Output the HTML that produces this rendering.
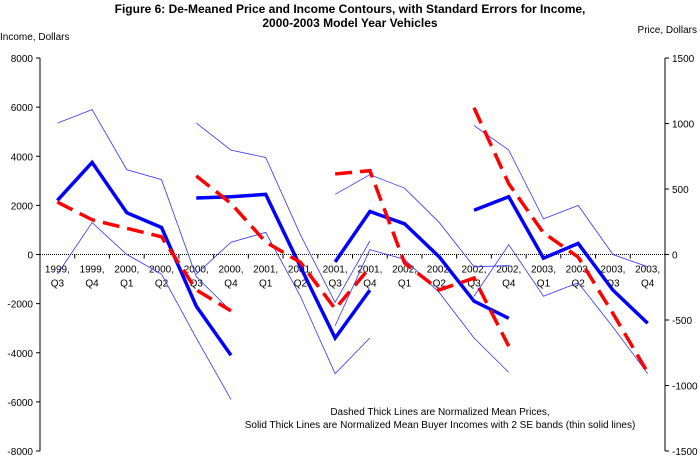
<!DOCTYPE html>
<html><head><meta charset="utf-8"><style>
body{margin:0;background:#fff;}
svg text{font-family:"Liberation Sans",Arial,sans-serif;}
</style></head><body>
<svg id="chart" width="700" height="457" xmlns="http://www.w3.org/2000/svg">
<text x="350" y="13" text-anchor="middle" font-size="12" font-weight="bold">Figure 6: De-Meaned Price and Income Contours, with Standard Errors for Income,</text>
<text x="350" y="27" text-anchor="middle" font-size="12" font-weight="bold">2000-2003 Model Year Vehicles</text>
<text x="0" y="40" font-size="10">Income, Dollars</text>
<text x="697" y="33" text-anchor="end" font-size="10">Price, Dollars</text>
<text x="440" y="415" text-anchor="middle" font-size="10">Dashed Thick Lines are Normalized Mean Prices,</text>
<text x="440" y="428" text-anchor="middle" font-size="10">Solid Thick Lines are Normalized Mean Buyer Incomes with 2 SE bands (thin solid lines)</text>
<g id="axes"></g><g id="series"></g>
</svg>
<script>
const categories=["1999,|Q3","1999,|Q4","2000,|Q1","2000,|Q2","2000,|Q3","2000,|Q4","2001,|Q1","2001,|Q2","2001,|Q3","2001,|Q4","2002,|Q1","2002,|Q2","2002,|Q3","2002,|Q4","2003,|Q1","2003,|Q2","2003,|Q3","2003,|Q4"];
const leftTicks=[8000,6000,4000,2000,0,-2000,-4000,-6000,-8000];
const rightTicks=[1500,1000,500,0,-500,-1000,-1500];
const groupStart=[0,4,8,12];
const income=[[2200,3750,1700,1100,-2100,-4100],[2300,2350,2450,-500,-3400,-1450],[-300,1750,1250,-100,-1900,-2600],[1800,2350,-150,450,-1450,-2800]];
const upper=[[5350,5900,3450,3050,-900,-2300],[5350,4250,3950,800,-1950,550],[2450,3250,2700,1300,-500,-450],[5250,4250,1450,2000,0,-500]];
const lower=[[-800,1300,0,-800,-3400,-5900],[-800,500,900,-1700,-4850,-3400],[-2900,200,-200,-1550,-3400,-4800],[-1700,400,-1700,-1150,-2950,-4850]];
const price=[[400,265,200,135,-270,-430],[600,390,95,-60,-415,-100],[615,640,-65,-270,-180,-700],[1120,540,165,-20,-450,-900]];
const X0=40,X1=665,Y0=58,Y1=451;
const x=i=>X0+(i+0.5)*(X1-X0)/categories.length;
const yL=v=>Y0+(8000-v)/16000*(Y1-Y0);
const yR=v=>Y0+(1500-v)/3000*(Y1-Y0);
const NS="http://www.w3.org/2000/svg";
function mk(tag,attrs,parent){const e=document.createElementNS(NS,tag);for(const k in attrs)e.setAttribute(k,attrs[k]);parent.appendChild(e);return e;}
const ax=document.getElementById('axes'),sr=document.getElementById('series');
let e=mk('line',{x1:X0,y1:Y0,x2:X0,y2:Y1,stroke:'#000','stroke-width':1},ax);


e=mk('line',{x1:X1,y1:Y0,x2:X1,y2:Y1,stroke:'#000','stroke-width':1},ax);


e=mk('line',{x1:X0,y1:yL(0),x2:X1,y2:yL(0),stroke:'#000','stroke-width':1,'stroke-dasharray':'1,1'},ax);


leftTicks.forEach(v=>{mk('line',{x1:X0-4,y1:yL(v),x2:X0,y2:yL(v),stroke:'#000'},ax);
 const t=mk('text',{x:X0-7,y:yL(v)+4,'text-anchor':'end','font-size':10},ax);t.textContent=v;
 
 });
rightTicks.forEach(v=>{mk('line',{x1:X1,y1:yR(v),x2:X1+4,y2:yR(v),stroke:'#000'},ax);
 const t=mk('text',{x:X1+7,y:yR(v)+4,'font-size':10},ax);t.textContent=v;
 
 });
categories.forEach((c,i)=>{const xb=X0+i*(X1-X0)/categories.length;mk('line',{x1:xb,y1:yL(0),x2:xb,y2:yL(0)+4,stroke:'#000'},ax);
 const p=c.split('|');
 const t=mk('text',{x:x(i),y:yL(0)+18,'text-anchor':'middle','font-size':10},ax);t.textContent=p[0];
 
 
 const t2=mk('text',{x:x(i),y:yL(0)+32,'text-anchor':'middle','font-size':10},ax);t2.textContent=p[1];
 
 });
function pts(arr,s,f){return arr.map((v,k)=>x(s+k)+','+f(v)).join(' ');}
groupStart.forEach((s,g)=>{
 let l=mk('polyline',{points:pts(upper[g],s,yL),fill:'none',stroke:'#3333ff','stroke-width':0.8},sr);
 
 
 l=mk('polyline',{points:pts(lower[g],s,yL),fill:'none',stroke:'#3333ff','stroke-width':0.8},sr);
 
 
 l=mk('polyline',{points:pts(income[g],s,yL),fill:'none',stroke:'#0000ff','stroke-width':3.5},sr);
 
 
 l=mk('polyline',{points:pts(price[g],s,yR),fill:'none',stroke:'#ff0000','stroke-width':3.5,'stroke-dasharray':'17,8'},sr);
 
 
});
</script>
</body></html>
